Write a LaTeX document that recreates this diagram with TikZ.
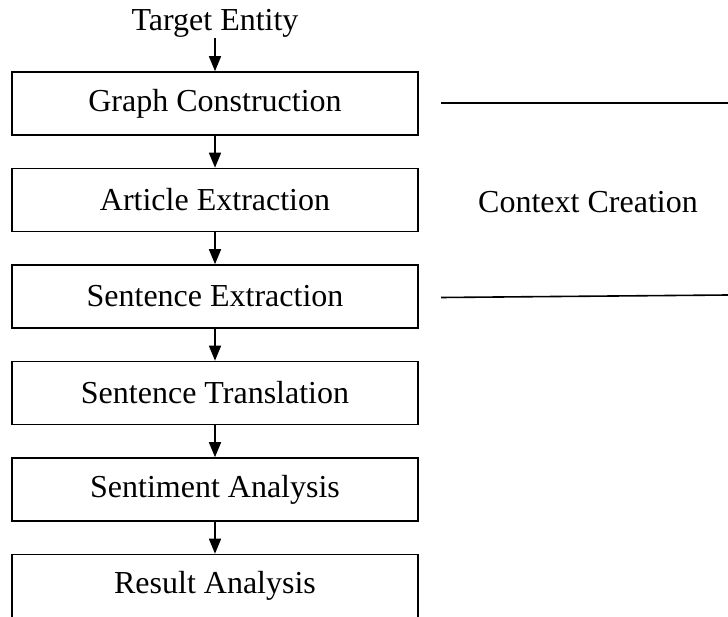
\documentclass[tikz,border=0pt]{standalone}
\usepackage{fontspec}
\setmainfont{Liberation Serif}
\usetikzlibrary{arrows.meta}
\begin{document}
\begin{tikzpicture}[x=1pt,y=1pt,
  stage/.style={draw, line width=1.6pt, minimum width=406pt, minimum height=63pt,
    inner sep=0pt, font=\fontsize{32}{38}\selectfont},
  label/.style={inner sep=1pt, font=\fontsize{32}{38}\selectfont},
  flow/.style={line width=1.6pt, -{Triangle[length=15pt,width=12pt]}},
  rule/.style={line width=1.6pt}]
  \clip (0,0) rectangle (728,-617);
  \useasboundingbox (0,0) rectangle (728,-617);

  % input label
  \node[label] (target) at (215,-23) {Target Entity};

  % pipeline stages
  \node[stage] (graph)   at (215,-103.5) {Graph Construction};
  \node[stage] (article) at (215,-200)   {Article Extraction};
  \node[stage] (sentext) at (215,-296.5) {Sentence Extraction};
  \node[stage] (trans)   at (215,-393)   {Sentence Translation};
  \node[stage] (sentim)  at (215,-489.5) {Sentiment Analysis};
  \node[stage] (result)  at (215,-586)   {Result Analysis};

  \draw[flow] (target) -- (graph.north);
  \draw[flow] (graph) -- (article);
  \draw[flow] (article) -- (sentext);
  \draw[flow] (sentext) -- (trans);
  \draw[flow] (trans) -- (sentim);
  \draw[flow] (sentim) -- (result);

  % bracket marking the context creation phase
  \node[label] (context) at (588,-202) {Context Creation};
  \coordinate (topL) at (441,-103);
  \coordinate (topR) at (728,-103);
  \coordinate (botL) at (441,-297.5);
  \coordinate (botR) at (728,-295);
  \draw[rule] (topL) -- (topR);
  \draw[rule] (botL) -- (botR);
\end{tikzpicture}
\end{document}
